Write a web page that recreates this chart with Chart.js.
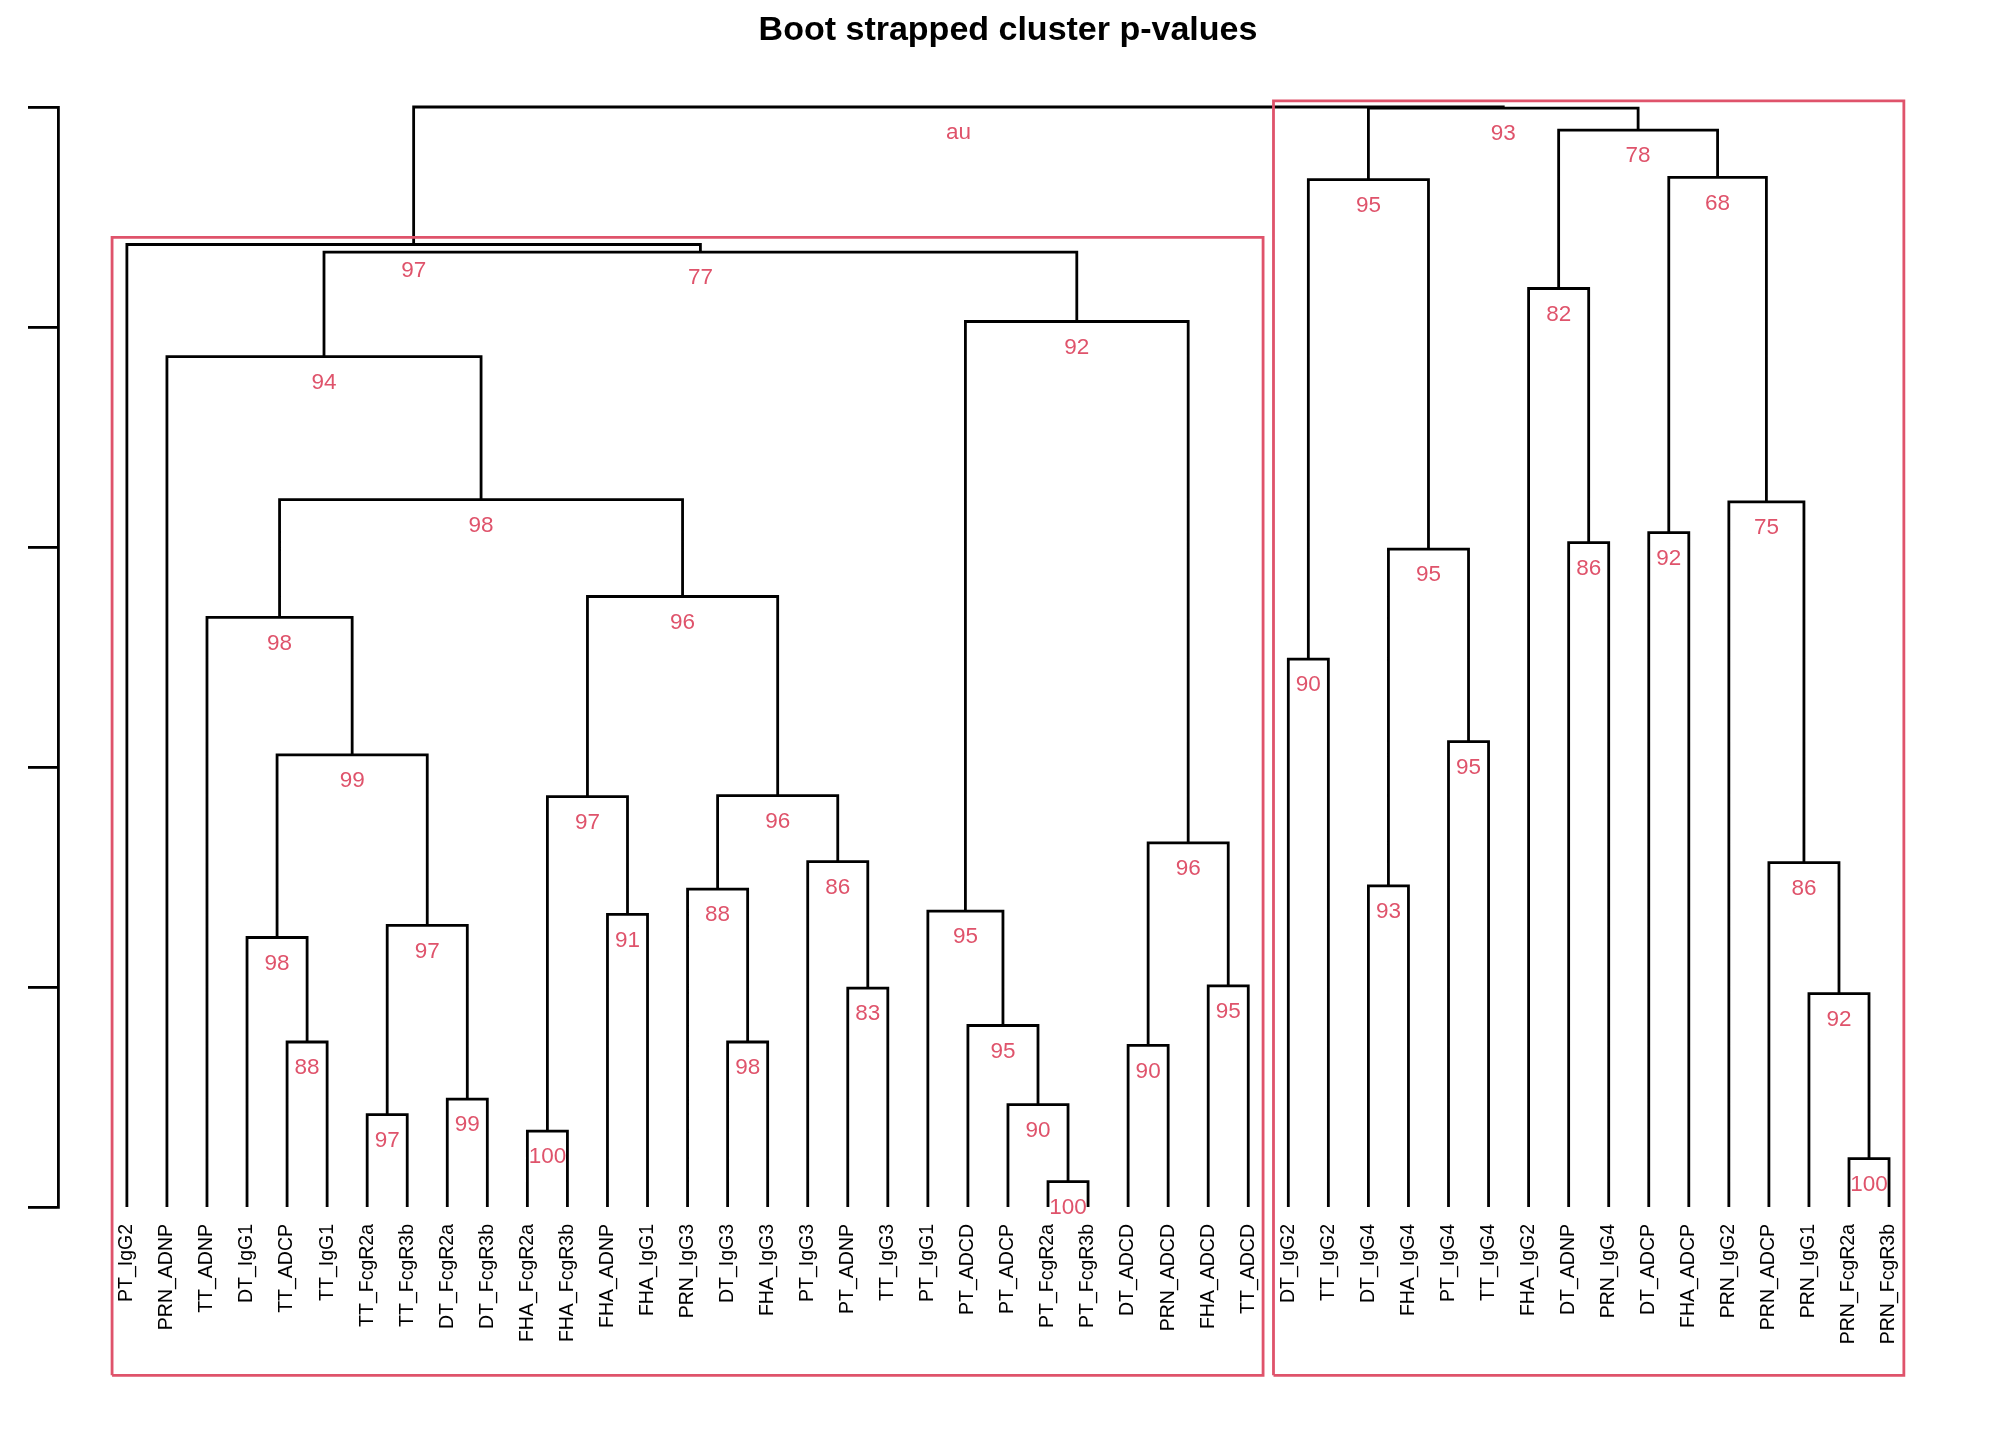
<!DOCTYPE html>
<html>
<head>
<meta charset="utf-8">
<script src="https://cdn.jsdelivr.net/npm/chart.js@4.4.0/dist/chart.umd.min.js"></script>
<style>
  html, body { margin: 0; padding: 0; background: #fff; }
  #wrap { width: 2016px; height: 1440px; }
</style>
</head>
<body>
<div id="wrap"><canvas id="dendro"></canvas></div>
<script>
// leaves in plotted order
var leafLabels = [
  'PT_IgG2', 'PRN_ADNP', 'TT_ADNP', 'DT_IgG1', 'TT_ADCP', 'TT_IgG1', 'TT_FcgR2a', 'TT_FcgR3b',
  'DT_FcgR2a', 'DT_FcgR3b', 'FHA_FcgR2a', 'FHA_FcgR3b', 'FHA_ADNP', 'FHA_IgG1', 'PRN_IgG3',
  'DT_IgG3', 'FHA_IgG3', 'PT_IgG3', 'PT_ADNP', 'TT_IgG3', 'PT_IgG1', 'PT_ADCD', 'PT_ADCP',
  'PT_FcgR2a', 'PT_FcgR3b', 'DT_ADCD', 'PRN_ADCD', 'FHA_ADCD', 'TT_ADCD',
  'DT_IgG2', 'TT_IgG2', 'DT_IgG4', 'FHA_IgG4', 'PT_IgG4', 'TT_IgG4', 'FHA_IgG2', 'DT_ADNP',
  'PRN_IgG4', 'DT_ADCP', 'FHA_ADCP', 'PRN_IgG2', 'PRN_ADCP', 'PRN_IgG1', 'PRN_FcgR2a', 'PRN_FcgR3b'
];

// hclust style merges: negative = leaf number, positive = earlier merge number
var mergeLeft  = [-11, -13, 1, -16, -15, -19, -18, 5, 3, -5, -4, -7, -9, 12, 11, -3, 16, -2,
                  -24, -23, -22, -21, -26, -28, 23, 22, 18, -1,
                  -30, -32, -34, 30, 29, -37, -36, -39, -44, -43, -42, -41, 36, 35, 33, 28];
var mergeRight = [-12, -14, 2, -17, 4, -20, 6, 7, 8, -6, 10, -8, -10, 13, 14, 15, 9, 17,
                  -25, 19, 20, 21, -27, -29, 24, 25, 26, 27,
                  -31, -33, -35, 31, 32, -38, 34, -40, -45, 37, 38, 39, 40, 41, 42, 43];
var mergeHeight = [0.069, 0.266, 0.373, 0.150, 0.289, 0.199, 0.314, 0.374, 0.555, 0.150,
                   0.245, 0.084, 0.098, 0.256, 0.411, 0.536, 0.643, 0.773, 0.023, 0.093,
                   0.165, 0.269, 0.147, 0.201, 0.331, 0.805, 0.868, 0.875,
                   0.498, 0.292, 0.423, 0.598, 0.934, 0.604, 0.835, 0.613, 0.044, 0.194,
                   0.313, 0.641, 0.936, 0.979, 0.999, 1.000];
var mergeAU = ['100', '91', '97', '98', '88', '83', '86', '96', '96', '88', '98', '97', '99', '97',
               '99', '98', '98', '94', '100', '90', '95', '95', '90', '95', '96', '92', '77', '97',
               '90', '93', '95', '95', '95', '86', '82', '92', '100', '92', '86', '75', '68', '78',
               '93', 'au'];

// clusters boxed in red
var rectClusters = [28, 43];
var yTicks = [0, 0.2, 0.4, 0.6, 0.8, 1.0];

var RED = '#DF536B';
var FONT = '"Liberation Sans", Arial, sans-serif';

// x position of every merge = midpoint of its two children
var nodeX = [];
function childX(c) { return c < 0 ? -c : nodeX[c - 1]; }
function childH(c) { return c < 0 ? 0 : mergeHeight[c - 1]; }
function members(c) {
  if (c < 0) return [-c];
  return members(mergeLeft[c - 1]).concat(members(mergeRight[c - 1]));
}

var treePts = [];
for (var i = 0; i < mergeLeft.length; i++) {
  var xl = childX(mergeLeft[i]), xr = childX(mergeRight[i]);
  nodeX[i] = (xl + xr) / 2;
  treePts.push({x: xl, y: childH(mergeLeft[i])}, {x: xl, y: mergeHeight[i]},
               {x: xr, y: mergeHeight[i]}, {x: xr, y: childH(mergeRight[i])},
               {x: xr, y: null});
}

var rectPts = [];
rectClusters.forEach(function (c) {
  var m = members(c);
  var x0 = Math.min.apply(null, m) - 0.37, x1 = Math.max.apply(null, m) + 0.37;
  var y0 = -0.153, y1 = mergeHeight[c - 1] + 0.0065;
  rectPts.push({x: x0, y: y0}, {x: x0, y: y1}, {x: x1, y: y1}, {x: x1, y: y0}, {x: x0, y: y0},
               {x: x0, y: null});
});

var textPlugin = {
  id: 'dendroText',
  afterDatasetsDraw: function (chart) {
    var ctx = chart.ctx, xs = chart.scales.x, ys = chart.scales.y;
    ctx.save();
    ctx.fillStyle = RED;
    ctx.font = '22.5px ' + FONT;
    ctx.textAlign = 'center';
    ctx.textBaseline = 'middle';
    for (var i = 0; i < mergeAU.length; i++) {
      ctx.fillText(mergeAU[i], xs.getPixelForValue(nodeX[i]), ys.getPixelForValue(mergeHeight[i]) + 26);
    }
    ctx.fillStyle = '#000';
    ctx.font = '19.5px ' + FONT;
    var top = ys.getPixelForValue(0) + 17;
    leafLabels.forEach(function (lab, k) {
      ctx.save();
      ctx.translate(xs.getPixelForValue(k + 1), top);
      ctx.rotate(-Math.PI / 2);
      ctx.textAlign = 'right';
      ctx.textBaseline = 'middle';
      ctx.fillText(lab, 0, 0);
      ctx.restore();
    });
    ctx.restore();
  }
};

new Chart(document.getElementById('dendro'), {
  type: 'scatter',
  data: {
    datasets: [
      { data: rectPts, showLine: true, borderColor: RED, borderWidth: 2.8, pointRadius: 0,
        borderJoinStyle: 'miter', clip: false, order: 0 },
      { data: treePts, showLine: true, borderColor: '#000', borderWidth: 2.8, pointRadius: 0,
        borderJoinStyle: 'miter', clip: false, order: 1 }
    ]
  },
  options: {
    responsive: true,
    maintainAspectRatio: false,
    animation: false,
    events: [],
    layout: { padding: { left: 0, right: 0, top: 0, bottom: 233 } },
    scales: {
      x: { type: 'linear', display: false, min: -0.72, max: 48.17 },
      y: {
        type: 'linear', min: 0, max: 1,
        afterBuildTicks: function (s) { s.ticks = yTicks.map(function (v) { return {value: v}; }); },
        afterFit: function (s) { s.width = 58; },
        ticks: { display: false },
        grid: { drawOnChartArea: false, drawTicks: true, tickLength: 30, color: '#000', lineWidth: 2.8 },
        border: { display: true, color: '#000', width: 2.8 }
      }
    },
    plugins: {
      legend: { display: false },
      tooltip: { enabled: false },
      title: {
        display: true,
        text: 'Boot strapped cluster p-values',
        color: '#000',
        font: { family: FONT, size: 34, weight: 'bold' },
        padding: { top: 10, bottom: 56.2 }
      }
    }
  },
  plugins: [textPlugin]
});
</script>
</body>
</html>
